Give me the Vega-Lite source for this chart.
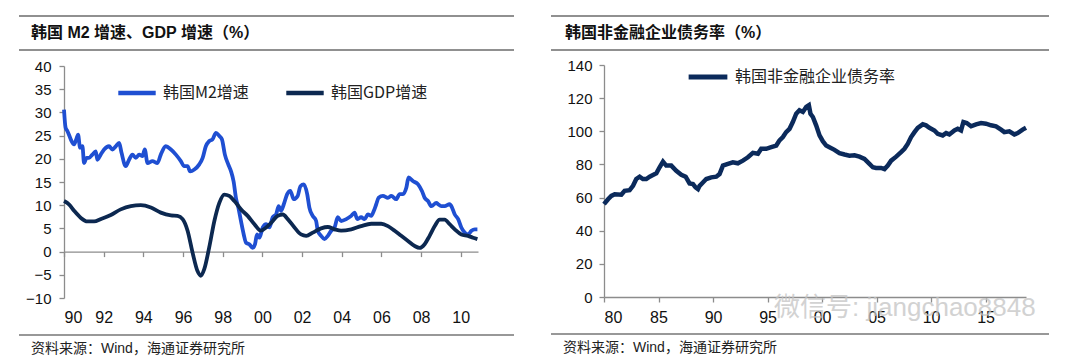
{
  "$schema": "https://vega.github.io/schema/vega-lite/v6.json",
  "background": "white",
  "padding": {"left": 18, "top": 15, "right": 0, "bottom": 0},
  "config": {
    "view": {"stroke": null},
    "font": "Liberation Sans, Noto Sans CJK SC",
    "axis": {"grid": false, "domainColor": "#8c8c8c", "tickColor": "#8c8c8c", "labelFont": "Liberation Sans", "labelFontSize": 15, "labelColor": "#111111", "title": null, "domainWidth": 1.3, "tickWidth": 1.3, "tickSize": 5, "labelOverlap": false}
  },
  "spacing": 35,
  "resolve": {"scale": {"color": "independent"}, "legend": {"color": "independent"}},
  "hconcat": [
    {
      "spacing": 8,
      "resolve": {"scale": {"color": "independent"}, "legend": {"color": "independent"}},
      "vconcat": [
        {
          "width": 495, "height": 34,
          "data": {"values": [{"p": 0, "x": 0, "label": "韩国 M2 增速、GDP 增速（%）"}, {"p": 1, "x": 0, "label": ""}]},
          "layer": [
            {"mark": {"type": "rule", "color": "#222222", "strokeWidth": 1.2}, "encoding": {"y": {"field": "p", "type": "quantitative", "scale": {"domain": [0, 1]}, "axis": null}}},
            {"transform": [{"filter": "datum.label != ''"}], "mark": {"type": "text", "align": "left", "baseline": "middle", "dx": 12, "dy": -17, "fontSize": 16, "fontWeight": "bold", "color": "#111111", "font": "Liberation Sans, Noto Sans CJK SC"},
             "encoding": {"x": {"field": "x", "type": "quantitative", "scale": {"domain": [0, 1]}, "axis": null}, "y": {"field": "p", "type": "quantitative", "axis": null}, "text": {"field": "label"}}}
          ]
        },
        {
          "spacing": 0,
          "resolve": {"scale": {"color": "independent"}, "legend": {"color": "independent"}},
          "hconcat": [
            {"width": 1, "height": 10, "data": {"values": [{"k": 0}]}, "mark": {"type": "point", "opacity": 0, "size": 0, "strokeWidth": 0}},
            {
              "width": 414, "height": 232,
              "data": {"values": [
                {"t":1990.00,"v":30.6,"s":"韩国M2增速"},{"t":1990.08,"v":26.7,"s":"韩国M2增速"},{"t":1990.17,"v":26.0,"s":"韩国M2增速"},{"t":1990.25,"v":25.2,"s":"韩国M2增速"},{"t":1990.34,"v":24.2,"s":"韩国M2增速"},{"t":1990.51,"v":23.1,"s":"韩国M2增速"},{"t":1990.64,"v":24.5,"s":"韩国M2增速"},{"t":1990.71,"v":25.2,"s":"韩国M2增速"},{"t":1990.81,"v":22.4,"s":"韩国M2增速"},{"t":1990.93,"v":22.7,"s":"韩国M2增速"},
                {"t":1991.01,"v":19.1,"s":"韩国M2增速"},{"t":1991.14,"v":20.2,"s":"韩国M2增速"},{"t":1991.26,"v":20.2,"s":"韩国M2增速"},{"t":1991.43,"v":20.9,"s":"韩国M2增速"},{"t":1991.60,"v":21.6,"s":"韩国M2增速"},{"t":1991.68,"v":19.8,"s":"韩国M2增速"},{"t":1991.85,"v":20.9,"s":"韩国M2增速"},{"t":1992.02,"v":22.0,"s":"韩国M2增速"},{"t":1992.27,"v":22.7,"s":"韩国M2增速"},{"t":1992.44,"v":22.0,"s":"韩国M2增速"},
                {"t":1992.61,"v":22.7,"s":"韩国M2增速"},{"t":1992.78,"v":23.4,"s":"韩国M2增速"},{"t":1992.90,"v":21.3,"s":"韩国M2增速"},{"t":1993.11,"v":18.4,"s":"韩国M2增速"},{"t":1993.28,"v":19.8,"s":"韩国M2增速"},{"t":1993.45,"v":20.9,"s":"韩国M2增速"},{"t":1993.62,"v":20.2,"s":"韩国M2增速"},{"t":1993.79,"v":20.9,"s":"韩国M2增速"},{"t":1993.96,"v":20.6,"s":"韩国M2增速"},{"t":1994.07,"v":22.0,"s":"韩国M2增速"},
                {"t":1994.21,"v":19.1,"s":"韩国M2增速"},{"t":1994.46,"v":19.5,"s":"韩国M2增速"},{"t":1994.71,"v":19.1,"s":"韩国M2增速"},{"t":1994.88,"v":20.9,"s":"韩国M2增速"},{"t":1995.13,"v":22.7,"s":"韩国M2增速"},{"t":1995.39,"v":22.0,"s":"韩国M2增速"},{"t":1995.64,"v":20.9,"s":"韩国M2增速"},{"t":1995.89,"v":19.5,"s":"韩国M2增速"},{"t":1996.06,"v":18.4,"s":"韩国M2增速"},{"t":1996.23,"v":18.4,"s":"韩国M2增速"},
                {"t":1996.36,"v":17.3,"s":"韩国M2增速"},{"t":1996.57,"v":17.7,"s":"韩国M2增速"},{"t":1996.82,"v":18.8,"s":"韩国M2增速"},{"t":1996.99,"v":20.2,"s":"韩国M2增速"},{"t":1997.15,"v":22.7,"s":"韩国M2增速"},{"t":1997.32,"v":23.8,"s":"韩国M2增速"},{"t":1997.49,"v":24.2,"s":"韩国M2增速"},{"t":1997.66,"v":25.6,"s":"韩国M2增速"},{"t":1997.83,"v":24.9,"s":"韩国M2增速"},{"t":1997.96,"v":24.2,"s":"韩国M2增速"},
                {"t":1998.11,"v":20.9,"s":"韩国M2增速"},{"t":1998.28,"v":18.8,"s":"韩国M2增速"},{"t":1998.42,"v":17.3,"s":"韩国M2增速"},{"t":1998.55,"v":15.1,"s":"韩国M2增速"},{"t":1998.67,"v":11.5,"s":"韩国M2增速"},{"t":1998.79,"v":9.5,"s":"韩国M2增速"},{"t":1998.92,"v":6.6,"s":"韩国M2增速"},{"t":1999.06,"v":3.7,"s":"韩国M2增速"},{"t":1999.18,"v":1.9,"s":"韩国M2增速"},{"t":1999.34,"v":1.6,"s":"韩国M2增速"},
                {"t":1999.51,"v":0.8,"s":"韩国M2增速"},{"t":1999.63,"v":1.6,"s":"韩国M2增速"},{"t":1999.73,"v":3.7,"s":"韩国M2增速"},{"t":1999.85,"v":3.0,"s":"韩国M2增速"},{"t":2000.02,"v":5.2,"s":"韩国M2增速"},{"t":2000.19,"v":5.9,"s":"韩国M2增速"},{"t":2000.35,"v":5.2,"s":"韩国M2增速"},{"t":2000.52,"v":7.4,"s":"韩国M2增速"},{"t":2000.69,"v":8.0,"s":"韩国M2增速"},{"t":2000.82,"v":9.8,"s":"韩国M2增速"},
                {"t":2000.94,"v":8.8,"s":"韩国M2增速"},{"t":2001.08,"v":10.2,"s":"韩国M2增速"},{"t":2001.25,"v":12.4,"s":"韩国M2增速"},{"t":2001.41,"v":13.1,"s":"韩国M2增速"},{"t":2001.58,"v":11.3,"s":"韩国M2增速"},{"t":2001.78,"v":12.0,"s":"韩国M2增速"},{"t":2001.92,"v":14.1,"s":"韩国M2增速"},{"t":2002.09,"v":14.5,"s":"韩国M2增速"},{"t":2002.26,"v":12.4,"s":"韩国M2增速"},{"t":2002.37,"v":9.5,"s":"韩国M2增速"},
                {"t":2002.54,"v":7.7,"s":"韩国M2增速"},{"t":2002.71,"v":6.6,"s":"韩国M2增速"},{"t":2002.79,"v":4.5,"s":"韩国M2增速"},{"t":2002.96,"v":3.4,"s":"韩国M2增速"},{"t":2003.13,"v":2.7,"s":"韩国M2增速"},{"t":2003.30,"v":3.4,"s":"韩国M2增速"},{"t":2003.47,"v":4.5,"s":"韩国M2增速"},{"t":2003.64,"v":5.2,"s":"韩国M2增速"},{"t":2003.80,"v":7.4,"s":"韩国M2增速"},{"t":2003.97,"v":6.6,"s":"韩国M2增速"},
                {"t":2004.23,"v":7.0,"s":"韩国M2增速"},{"t":2004.48,"v":7.7,"s":"韩国M2增速"},{"t":2004.65,"v":8.4,"s":"韩国M2增速"},{"t":2004.78,"v":7.0,"s":"韩国M2增速"},{"t":2004.98,"v":7.4,"s":"韩国M2增速"},{"t":2005.15,"v":7.0,"s":"韩国M2增速"},{"t":2005.32,"v":8.0,"s":"韩国M2增速"},{"t":2005.49,"v":7.7,"s":"韩国M2增速"},{"t":2005.62,"v":8.8,"s":"韩国M2增速"},{"t":2005.74,"v":10.2,"s":"韩国M2增速"},
                {"t":2005.86,"v":11.6,"s":"韩国M2增速"},{"t":2006.08,"v":12.0,"s":"韩国M2增速"},{"t":2006.33,"v":11.6,"s":"韩国M2增速"},{"t":2006.50,"v":12.0,"s":"韩国M2增速"},{"t":2006.75,"v":11.3,"s":"韩国M2增速"},{"t":2006.92,"v":12.4,"s":"韩国M2增速"},{"t":2007.09,"v":12.4,"s":"韩国M2增速"},{"t":2007.26,"v":13.8,"s":"韩国M2增速"},{"t":2007.37,"v":16.0,"s":"韩国M2增速"},{"t":2007.59,"v":15.2,"s":"韩国M2增速"},
                {"t":2007.85,"v":14.5,"s":"韩国M2增速"},{"t":2008.05,"v":13.0,"s":"韩国M2增速"},{"t":2008.18,"v":11.6,"s":"韩国M2增速"},{"t":2008.35,"v":10.9,"s":"韩国M2增速"},{"t":2008.52,"v":9.8,"s":"韩国M2增速"},{"t":2008.77,"v":10.5,"s":"韩国M2增速"},{"t":2008.86,"v":10.2,"s":"韩国M2增速"},{"t":2009.02,"v":9.8,"s":"韩国M2增速"},{"t":2009.19,"v":9.8,"s":"韩国M2增速"},{"t":2009.44,"v":10.2,"s":"韩国M2增速"},
                {"t":2009.56,"v":9.5,"s":"韩国M2增速"},{"t":2009.70,"v":8.0,"s":"韩国M2增速"},{"t":2009.87,"v":7.0,"s":"韩国M2增速"},{"t":2010.03,"v":5.2,"s":"韩国M2增速"},{"t":2010.20,"v":4.1,"s":"韩国M2增速"},{"t":2010.37,"v":3.7,"s":"韩国M2增速"},{"t":2010.54,"v":4.5,"s":"韩国M2增速"},{"t":2010.71,"v":4.8,"s":"韩国M2增速"},{"t":2010.84,"v":4.8,"s":"韩国M2增速"},
                {"t":1990.00,"v":10.9,"s":"韩国GDP增速"},{"t":1990.25,"v":10.2,"s":"韩国GDP增速"},{"t":1990.51,"v":8.8,"s":"韩国GDP增速"},{"t":1990.84,"v":7.3,"s":"韩国GDP增速"},{"t":1991.18,"v":6.5,"s":"韩国GDP增速"},{"t":1991.52,"v":6.5,"s":"韩国GDP增速"},{"t":1991.85,"v":7.0,"s":"韩国GDP增速"},{"t":1992.36,"v":7.9,"s":"韩国GDP增速"},{"t":1992.86,"v":9.1,"s":"韩国GDP增速"},{"t":1993.37,"v":9.8,"s":"韩国GDP增速"},
                {"t":1993.87,"v":10.0,"s":"韩国GDP增速"},{"t":1994.38,"v":9.5,"s":"韩国GDP增速"},{"t":1994.88,"v":8.4,"s":"韩国GDP增速"},{"t":1995.39,"v":7.8,"s":"韩国GDP增速"},{"t":1995.72,"v":7.7,"s":"韩国GDP增速"},{"t":1995.98,"v":7.0,"s":"韩国GDP增速"},{"t":1996.23,"v":4.5,"s":"韩国GDP增速"},{"t":1996.48,"v":-0.2,"s":"韩国GDP增速"},{"t":1996.73,"v":-4.2,"s":"韩国GDP增速"},{"t":1996.90,"v":-5.2,"s":"韩国GDP增速"},
                {"t":1997.07,"v":-3.8,"s":"韩国GDP增速"},{"t":1997.32,"v":0.9,"s":"韩国GDP增速"},{"t":1997.58,"v":6.6,"s":"韩国GDP增速"},{"t":1997.83,"v":10.5,"s":"韩国GDP增速"},{"t":1998.08,"v":12.3,"s":"韩国GDP增速"},{"t":1998.33,"v":12.0,"s":"韩国GDP增速"},{"t":1998.59,"v":10.9,"s":"韩国GDP增速"},{"t":1998.92,"v":9.1,"s":"韩国GDP增速"},{"t":1999.26,"v":7.7,"s":"韩国GDP增速"},{"t":1999.60,"v":5.9,"s":"韩国GDP增速"},
                {"t":1999.93,"v":4.5,"s":"韩国GDP增速"},{"t":2000.19,"v":5.2,"s":"韩国GDP增速"},{"t":2000.44,"v":6.2,"s":"韩国GDP增速"},{"t":2000.77,"v":7.7,"s":"韩国GDP增速"},{"t":2001.03,"v":8.0,"s":"韩国GDP增速"},{"t":2001.28,"v":7.0,"s":"韩国GDP增速"},{"t":2001.62,"v":5.2,"s":"韩国GDP增速"},{"t":2001.95,"v":3.7,"s":"韩国GDP增速"},{"t":2002.21,"v":3.4,"s":"韩国GDP增速"},{"t":2002.54,"v":4.1,"s":"韩国GDP增速"},
                {"t":2002.96,"v":5.0,"s":"韩国GDP增速"},{"t":2003.30,"v":5.3,"s":"韩国GDP增速"},{"t":2003.64,"v":4.8,"s":"韩国GDP增速"},{"t":2003.97,"v":4.5,"s":"韩国GDP增速"},{"t":2004.48,"v":4.8,"s":"韩国GDP增速"},{"t":2004.98,"v":5.5,"s":"韩国GDP增速"},{"t":2005.49,"v":6.0,"s":"韩国GDP增速"},{"t":2005.99,"v":6.0,"s":"韩国GDP增速"},{"t":2006.33,"v":5.5,"s":"韩国GDP增速"},{"t":2006.67,"v":4.5,"s":"韩国GDP增速"},
                {"t":2007.00,"v":3.4,"s":"韩国GDP增速"},{"t":2007.34,"v":2.3,"s":"韩国GDP增速"},{"t":2007.68,"v":1.2,"s":"韩国GDP增速"},{"t":2007.93,"v":0.8,"s":"韩国GDP增速"},{"t":2008.18,"v":1.6,"s":"韩国GDP增速"},{"t":2008.43,"v":3.4,"s":"韩国GDP增速"},{"t":2008.69,"v":5.5,"s":"韩国GDP增速"},{"t":2008.94,"v":6.9,"s":"韩国GDP增速"},{"t":2009.19,"v":6.9,"s":"韩国GDP增速"},{"t":2009.44,"v":5.9,"s":"韩国GDP增速"},
                {"t":2009.70,"v":4.8,"s":"韩国GDP增速"},{"t":2010.03,"v":3.7,"s":"韩国GDP增速"},{"t":2010.37,"v":3.4,"s":"韩国GDP增速"},{"t":2010.62,"v":3.0,"s":"韩国GDP增速"},{"t":2010.84,"v":2.7,"s":"韩国GDP增速"}
              ]},
              "mark": {"type": "line", "strokeWidth": 3.8, "interpolate": "monotone"},
              "encoding": {
                "x": {"field": "t", "type": "quantitative", "scale": {"domain": [1990, 2010.87], "nice": false, "zero": false},
                      "axis": {"values": [1990, 1992, 1994, 1996, 1998, 2000, 2002, 2004, 2006, 2008, 2010], "labelExpr": "slice(toString(datum.value), 2)", "offset": -46.4, "labelPadding": 53, "labelFontSize": 16}},
                "y": {"field": "v", "type": "quantitative", "scale": {"domain": [-10, 40], "nice": false},
                      "axis": {"values": [-10, -5, 0, 5, 10, 15, 20, 25, 30, 35, 40], "labelPadding": 8, "minExtent": 44}},
                "color": {"field": "s", "type": "nominal", "sort": ["韩国M2增速", "韩国GDP增速"],
                          "scale": {"domain": ["韩国M2增速", "韩国GDP增速"], "range": ["#1f4fd2", "#0c2850"]},
                          "legend": {"orient": "none", "legendX": 52, "legendY": 6, "direction": "horizontal", "title": null, "symbolType": "stroke", "symbolSize": 1400, "symbolStrokeWidth": 4.5, "labelFontSize": 16, "labelFont": "Noto Sans CJK SC", "labelColor": "#222222", "labelOffset": 5, "labelLimit": 400, "columnPadding": 28}}
              }
            }
          ]
        },
        {
          "width": 495, "height": 28,
          "data": {"values": [{"p": 1, "x": 0, "label": ""}, {"p": 0.5, "x": 0, "label": "资料来源：Wind，海通证券研究所"}]},
          "layer": [
            {"transform": [{"filter": "datum.label == ''"}], "mark": {"type": "rule", "color": "#333333", "strokeWidth": 1.2}, "encoding": {"y": {"field": "p", "type": "quantitative", "scale": {"domain": [0, 1]}, "axis": null}}},
            {"transform": [{"filter": "datum.label != ''"}], "mark": {"type": "text", "align": "left", "baseline": "middle", "dx": 12, "fontSize": 14, "color": "#222222", "font": "Liberation Sans, Noto Sans CJK SC"},
             "encoding": {"x": {"field": "x", "type": "quantitative", "scale": {"domain": [0, 1]}, "axis": null}, "y": {"field": "p", "type": "quantitative", "axis": null}, "text": {"field": "label"}}}
          ]
        }
      ]
    },
    {
      "spacing": 4,
      "resolve": {"scale": {"color": "independent"}, "legend": {"color": "independent"}},
      "vconcat": [
        {
          "width": 498, "height": 34,
          "data": {"values": [{"p": 0, "x": 0, "label": "韩国非金融企业债务率（%）"}, {"p": 1, "x": 0, "label": ""}]},
          "layer": [
            {"mark": {"type": "rule", "color": "#222222", "strokeWidth": 1.2}, "encoding": {"y": {"field": "p", "type": "quantitative", "scale": {"domain": [0, 1]}, "axis": null}}},
            {"transform": [{"filter": "datum.label != ''"}], "mark": {"type": "text", "align": "left", "baseline": "middle", "dx": 14, "dy": -17, "fontSize": 16, "fontWeight": "bold", "color": "#111111", "font": "Liberation Sans, Noto Sans CJK SC"},
             "encoding": {"x": {"field": "x", "type": "quantitative", "scale": {"domain": [0, 1]}, "axis": null}, "y": {"field": "p", "type": "quantitative", "axis": null}, "text": {"field": "label"}}}
          ]
        },
        {
          "spacing": 8,
          "resolve": {"scale": {"color": "independent"}, "legend": {"color": "independent"}},
          "vconcat": [
            {
              "spacing": 0,
              "resolve": {"scale": {"color": "independent"}, "legend": {"color": "independent"}},
              "hconcat": [
                {"width": 1, "height": 10, "data": {"values": [{"k": 0}]}, "mark": {"type": "point", "opacity": 0, "size": 0, "strokeWidth": 0}},
                {
                  "width": 422, "height": 232,
                  "data": {"values": [
                    {"t":1980.00,"v":56.0,"s":"韩国非金融企业债务率"},{"t":1980.37,"v":59.0,"s":"韩国非金融企业债务率"},{"t":1980.67,"v":61.0,"s":"韩国非金融企业债务率"},{"t":1980.98,"v":62.0,"s":"韩国非金融企业债务率"},{"t":1981.59,"v":61.7,"s":"韩国非金融企业债务率"},{"t":1981.89,"v":64.1,"s":"韩国非金融企业债务率"},{"t":1982.35,"v":64.5,"s":"韩国非金融企业债务率"},{"t":1982.66,"v":67.1,"s":"韩国非金融企业债务率"},{"t":1982.96,"v":71.2,"s":"韩国非金融企业债务率"},{"t":1983.27,"v":72.6,"s":"韩国非金融企业债务率"},
                    {"t":1983.57,"v":71.2,"s":"韩国非金融企业债务率"},{"t":1983.88,"v":71.2,"s":"韩国非金融企业债务率"},{"t":1984.19,"v":72.6,"s":"韩国非金融企业债务率"},{"t":1984.49,"v":73.6,"s":"韩国非金融企业债务率"},{"t":1984.80,"v":74.6,"s":"韩国非金融企业债务率"},{"t":1985.10,"v":78.3,"s":"韩国非金融企业债务率"},{"t":1985.41,"v":81.7,"s":"韩国非金融企业债务率"},{"t":1985.71,"v":79.3,"s":"韩国非金融企业债务率"},{"t":1986.17,"v":79.3,"s":"韩国非金融企业债务率"},{"t":1986.63,"v":76.2,"s":"韩国非金融企业债务率"},
                    {"t":1987.09,"v":73.8,"s":"韩国非金融企业债务率"},{"t":1987.49,"v":72.6,"s":"韩国非金融企业债务率"},{"t":1987.85,"v":68.5,"s":"韩国非金融企业债务率"},{"t":1988.16,"v":68.1,"s":"韩国非金融企业债务率"},{"t":1988.40,"v":66.1,"s":"韩国非金融企业债务率"},{"t":1988.62,"v":65.1,"s":"韩国非金融企业债务率"},{"t":1988.77,"v":67.1,"s":"韩国非金融企业债务率"},{"t":1989.07,"v":69.1,"s":"韩国非金融企业债务率"},{"t":1989.38,"v":71.2,"s":"韩国非金融企业债务率"},{"t":1989.84,"v":72.2,"s":"韩国非金融企业债务率"},
                    {"t":1990.30,"v":72.6,"s":"韩国非金融企业债务率"},{"t":1990.60,"v":74.2,"s":"韩国非金融企业债务率"},{"t":1990.91,"v":79.3,"s":"韩国非金融企业债务率"},{"t":1991.37,"v":80.3,"s":"韩国非金融企业债务率"},{"t":1991.82,"v":81.3,"s":"韩国非金融企业债务率"},{"t":1992.28,"v":80.7,"s":"韩国非金融企业债务率"},{"t":1992.74,"v":82.3,"s":"韩国非金融企业债务率"},{"t":1993.20,"v":84.3,"s":"韩国非金融企业债务率"},{"t":1993.66,"v":87.0,"s":"韩国非金融企业债务率"},{"t":1994.12,"v":86.4,"s":"韩国非金融企业债务率"},
                    {"t":1994.42,"v":89.4,"s":"韩国非金融企业债务率"},{"t":1994.88,"v":89.4,"s":"韩国非金融企业债务率"},{"t":1995.34,"v":90.4,"s":"韩国非金融企业债务率"},{"t":1995.80,"v":91.4,"s":"韩国非金融企业债务率"},{"t":1996.10,"v":94.5,"s":"韩国非金融企业债务率"},{"t":1996.41,"v":96.5,"s":"韩国非金融企业债务率"},{"t":1996.71,"v":99.5,"s":"韩国非金融企业债务率"},{"t":1997.02,"v":101.5,"s":"韩国非金融企业债务率"},{"t":1997.32,"v":105.6,"s":"韩国非金融企业债务率"},{"t":1997.63,"v":110.6,"s":"韩国非金融企业债务率"},
                    {"t":1997.93,"v":112.7,"s":"韩国非金融企业债务率"},{"t":1998.24,"v":111.7,"s":"韩国非金融企业债务率"},{"t":1998.55,"v":114.7,"s":"韩国非金融企业债务率"},{"t":1998.79,"v":115.7,"s":"韩国非金融企业债务率"},{"t":1998.94,"v":110.6,"s":"韩国非金融企业债务率"},{"t":1999.16,"v":108.6,"s":"韩国非金融企业债务率"},{"t":1999.46,"v":103.6,"s":"韩国非金融企业债务率"},{"t":1999.77,"v":97.5,"s":"韩国非金融企业债务率"},{"t":2000.07,"v":94.0,"s":"韩国非金融企业债务率"},{"t":2000.38,"v":91.4,"s":"韩国非金融企业债务率"},
                    {"t":2000.68,"v":90.4,"s":"韩国非金融企业债务率"},{"t":2001.14,"v":88.8,"s":"韩国非金融企业债务率"},{"t":2001.60,"v":86.8,"s":"韩国非金融企业债务率"},{"t":2002.06,"v":86.0,"s":"韩国非金融企业债务率"},{"t":2002.52,"v":85.3,"s":"韩国非金融企业债务率"},{"t":2002.98,"v":85.5,"s":"韩国非金融企业债务率"},{"t":2003.43,"v":84.7,"s":"韩国非金融企业债务率"},{"t":2003.89,"v":83.3,"s":"韩国非金融企业债务率"},{"t":2004.35,"v":80.3,"s":"韩国非金融企业债务率"},{"t":2004.66,"v":78.3,"s":"韩国非金融企业债务率"},
                    {"t":2004.96,"v":77.9,"s":"韩国非金融企业债务率"},{"t":2005.42,"v":77.9,"s":"韩国非金融企业债务率"},{"t":2005.73,"v":77.2,"s":"韩国非金融企业债务率"},{"t":2006.03,"v":79.3,"s":"韩国非金融企业债务率"},{"t":2006.34,"v":82.3,"s":"韩国非金融企业债务率"},{"t":2006.80,"v":84.7,"s":"韩国非金融企业债务率"},{"t":2007.25,"v":87.4,"s":"韩国非金融企业债务率"},{"t":2007.56,"v":89.4,"s":"韩国非金融企业债务率"},{"t":2007.86,"v":92.4,"s":"韩国非金融企业债务率"},{"t":2008.17,"v":96.5,"s":"韩国非金融企业债务率"},
                    {"t":2008.48,"v":99.5,"s":"韩国非金融企业债务率"},{"t":2008.78,"v":102.1,"s":"韩国非金融企业债务率"},{"t":2009.24,"v":104.2,"s":"韩国非金融企业债务率"},{"t":2009.54,"v":103.6,"s":"韩国非金融企业债务率"},{"t":2009.85,"v":102.1,"s":"韩国非金融企业债务率"},{"t":2010.31,"v":100.5,"s":"韩国非金融企业债务率"},{"t":2010.61,"v":98.5,"s":"韩国非金融企业债务率"},{"t":2011.07,"v":97.5,"s":"韩国非金融企业债务率"},{"t":2011.38,"v":98.9,"s":"韩国非金融企业债务率"},{"t":2011.68,"v":98.1,"s":"韩国非金融企业债务率"},
                    {"t":2012.14,"v":100.5,"s":"韩国非金融企业债务率"},{"t":2012.45,"v":101.5,"s":"韩国非金融企业债务率"},{"t":2012.75,"v":100.5,"s":"韩国非金融企业债务率"},{"t":2012.97,"v":105.6,"s":"韩国非金融企业债务率"},{"t":2013.27,"v":105.0,"s":"韩国非金融企业债务率"},{"t":2013.67,"v":103.0,"s":"韩国非金融企业债务率"},{"t":2014.13,"v":104.2,"s":"韩国非金融企业债务率"},{"t":2014.59,"v":105.0,"s":"韩国非金融企业债务率"},{"t":2015.04,"v":104.6,"s":"韩国非金融企业债务率"},{"t":2015.50,"v":103.6,"s":"韩国非金融企业债务率"},
                    {"t":2015.96,"v":103.0,"s":"韩国非金融企业债务率"},{"t":2016.42,"v":101.0,"s":"韩国非金融企业债务率"},{"t":2016.72,"v":99.5,"s":"韩国非金融企业债务率"},{"t":2017.18,"v":100.0,"s":"韩国非金融企业债务率"},{"t":2017.64,"v":98.1,"s":"韩国非金融企业债务率"},{"t":2017.95,"v":98.9,"s":"韩国非金融企业债务率"},{"t":2018.40,"v":101.0,"s":"韩国非金融企业债务率"},{"t":2018.71,"v":102.1,"s":"韩国非金融企业债务率"},
                    {"t":1995.6,"v":-6.8,"s":"watermark","label":"微信号: jiangchao8848"}
                  ]},
                  "encoding": {
                    "x": {"field": "t", "type": "quantitative", "scale": {"domain": [1980, 2018.71], "nice": false, "zero": false},
                          "axis": {"values": [1980, 1985, 1990, 1995, 2000, 2005, 2010, 2015], "labelExpr": "slice(toString(datum.value), 2)", "labelPadding": 7, "labelFontSize": 16}},
                    "y": {"field": "v", "type": "quantitative", "scale": {"domain": [0, 140], "nice": false},
                          "axis": {"values": [0, 20, 40, 60, 80, 100, 120, 140], "labelPadding": 7, "minExtent": 52}}
                  },
                  "layer": [
                    {
                      "transform": [{"filter": "datum.s != 'watermark'"}],
                      "mark": {"type": "line", "strokeWidth": 4.5},
                      "encoding": {
                        "color": {"field": "s", "type": "nominal", "scale": {"domain": ["韩国非金融企业债务率"], "range": ["#0b2a5b"]},
                                  "legend": {"orient": "none", "legendX": 82, "legendY": -10, "direction": "horizontal", "title": null, "symbolType": "stroke", "symbolSize": 1500, "symbolStrokeWidth": 5, "labelFontSize": 16, "labelFont": "Noto Sans CJK SC", "labelColor": "#222222", "labelOffset": 5, "labelLimit": 400}}
                      }
                    },
                    {
                      "transform": [{"filter": "datum.s == 'watermark'"}],
                      "mark": {"type": "text", "align": "left", "baseline": "middle", "fontSize": 26, "color": "#c4c4c4", "opacity": 0.75, "font": "Liberation Sans, Noto Sans CJK SC"},
                      "encoding": {"text": {"field": "label"}}
                    }
                  ]
                }
              ]
            },
            {
              "width": 498, "height": 28,
              "data": {"values": [{"p": 1, "x": 0, "label": ""}, {"p": 0.5, "x": 0, "label": "资料来源：Wind，海通证券研究所"}]},
              "layer": [
                {"transform": [{"filter": "datum.label == ''"}], "mark": {"type": "rule", "color": "#333333", "strokeWidth": 1.2}, "encoding": {"y": {"field": "p", "type": "quantitative", "scale": {"domain": [0, 1]}, "axis": null}}},
                {"transform": [{"filter": "datum.label != ''"}], "mark": {"type": "text", "align": "left", "baseline": "middle", "dx": 12, "fontSize": 14, "color": "#222222", "font": "Liberation Sans, Noto Sans CJK SC"},
                 "encoding": {"x": {"field": "x", "type": "quantitative", "scale": {"domain": [0, 1]}, "axis": null}, "y": {"field": "p", "type": "quantitative", "axis": null}, "text": {"field": "label"}}}
              ]
            }
          ]
        }
      ]
    }
  ]
}
